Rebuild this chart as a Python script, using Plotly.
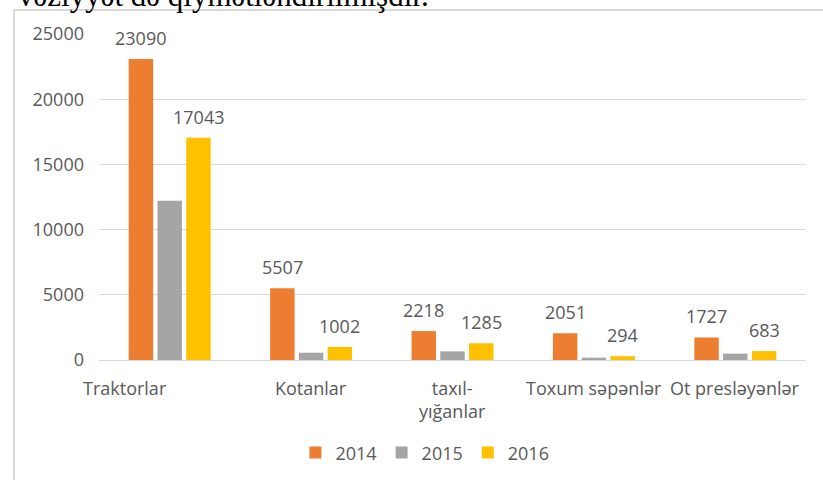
'''
    Grouped bar chart: agricultural machinery counts, 2014-2016.
'''

import plotly.graph_objects as go

categories = ["Traktorlar", "Kotanlar", "taxıl-<br>yığanlar", "Toxum səpənlər", "Ot presləyənlər"]
years = ["2014", "2015", "2016"]
values_2014 = [23090, 5507, 2218, 2051, 1727]
values_2015 = [12220, 560, 660, 180, 485]
values_2016 = [17043, 1002, 1285, 294, 683]
y_ticks = [0, 5000, 10000, 15000, 20000, 25000]

colors = ["#ED7D31", "#A5A5A5", "#FFC000"]
show_labels = [True, False, True]
FONT = "Open Sans"
GRAY = "#595959"
BARGAP = 0.39
SLOT = 707 / len(categories) * (1 - BARGAP) / len(years)   # px per bar slot


def get_plot():
    '''
        Builds the grouped bars.
    '''
    fig = go.Figure()
    for year, vals, color in zip(years, [values_2014, values_2015, values_2016], colors):
        fig.add_trace(go.Bar(
            x=categories, y=vals, name=year,
            marker=dict(color=color, line=dict(width=0)),
        ))
    return fig


def add_value_labels(fig):
    '''
        Value labels above the 2014 and 2016 bars, a bit higher than
        plotly's own outside text would put them.
    '''
    all_vals = [values_2014, values_2015, values_2016]
    for i, (vals, lab) in enumerate(zip(all_vals, show_labels)):
        if not lab:
            continue
        dx = (i - 1) * SLOT
        for cat, v in zip(categories, vals):
            fig.add_annotation(x=cat, y=v, xref="x", yref="y",
                               text=str(v), showarrow=False,
                               yanchor="bottom", yshift=7, xshift=dx,
                               font=dict(family=FONT, size=18, color=GRAY))
    return fig


def update_layout(fig):
    '''
        Axes, legend, frame and the clipped sentence above the chart.
    '''
    fig.update_layout(
        width=823, height=480,
        margin=dict(l=99, r=17, t=34, b=120, autoexpand=False),
        paper_bgcolor="white", plot_bgcolor="white",
        barmode="group", bargap=BARGAP, bargroupgap=0.15,
        font=dict(family=FONT, size=18, color=GRAY),
        showlegend=True,
        legend=dict(orientation="h", x=0.461, xanchor="center",
                    y=-0.285, yanchor="middle",
                    font=dict(family=FONT, size=18, color=GRAY),
                    itemwidth=30, tracegroupgap=0),
    )
    fig.update_yaxes(range=[0, 25000], tickvals=y_ticks, tickformat="d",
                     showgrid=True, gridcolor="#D9D9D9", gridwidth=1,
                     zeroline=False, showline=False, automargin=False,
                     ticklabelstandoff=14,
                     tickfont=dict(family=FONT, size=18, color=GRAY))
    fig.update_xaxes(range=[-0.5, len(categories) - 0.5],
                     showticklabels=False, showline=True, automargin=False,
                     linecolor="#D9D9D9", linewidth=1, ticks="")

    # category labels (the first one sits left of its group in the source)
    shifts = [-45, 0, 0, 0, 0]
    for cat, dx in zip(categories, shifts):
        fig.add_annotation(x=cat, y=0, xref="x", yref="y",
                           text=cat, showarrow=False,
                           yanchor="top", yshift=-14, xshift=dx,
                           font=dict(family=FONT, size=18, color=GRAY))

    # outer frame of the embedded chart
    fig.add_shape(type="rect", xref="paper", yref="paper",
                  x0=-0.1202, x1=1.05, y0=-0.5, y1=1.0736,
                  line=dict(color="#D9D9D9", width=2))

    # sentence of the surrounding document, cut by the top edge
    fig.add_annotation(xref="paper", yref="paper", x=-0.117, y=1.0736,
                       xanchor="left", yanchor="bottom", yshift=-5,
                       text="vəziyyət də qiymətləndirilmişdir.",
                       showarrow=False,
                       font=dict(family="Liberation Serif", size=31, color="black"))
    return fig


fig = get_plot()
fig = add_value_labels(fig)
fig = update_layout(fig)
# drop the default 8px page margin so the figure sits at the window corner
fig.write_html("out.html", config={"displayModeBar": False},
               post_script="document.body.style.margin='0';")
